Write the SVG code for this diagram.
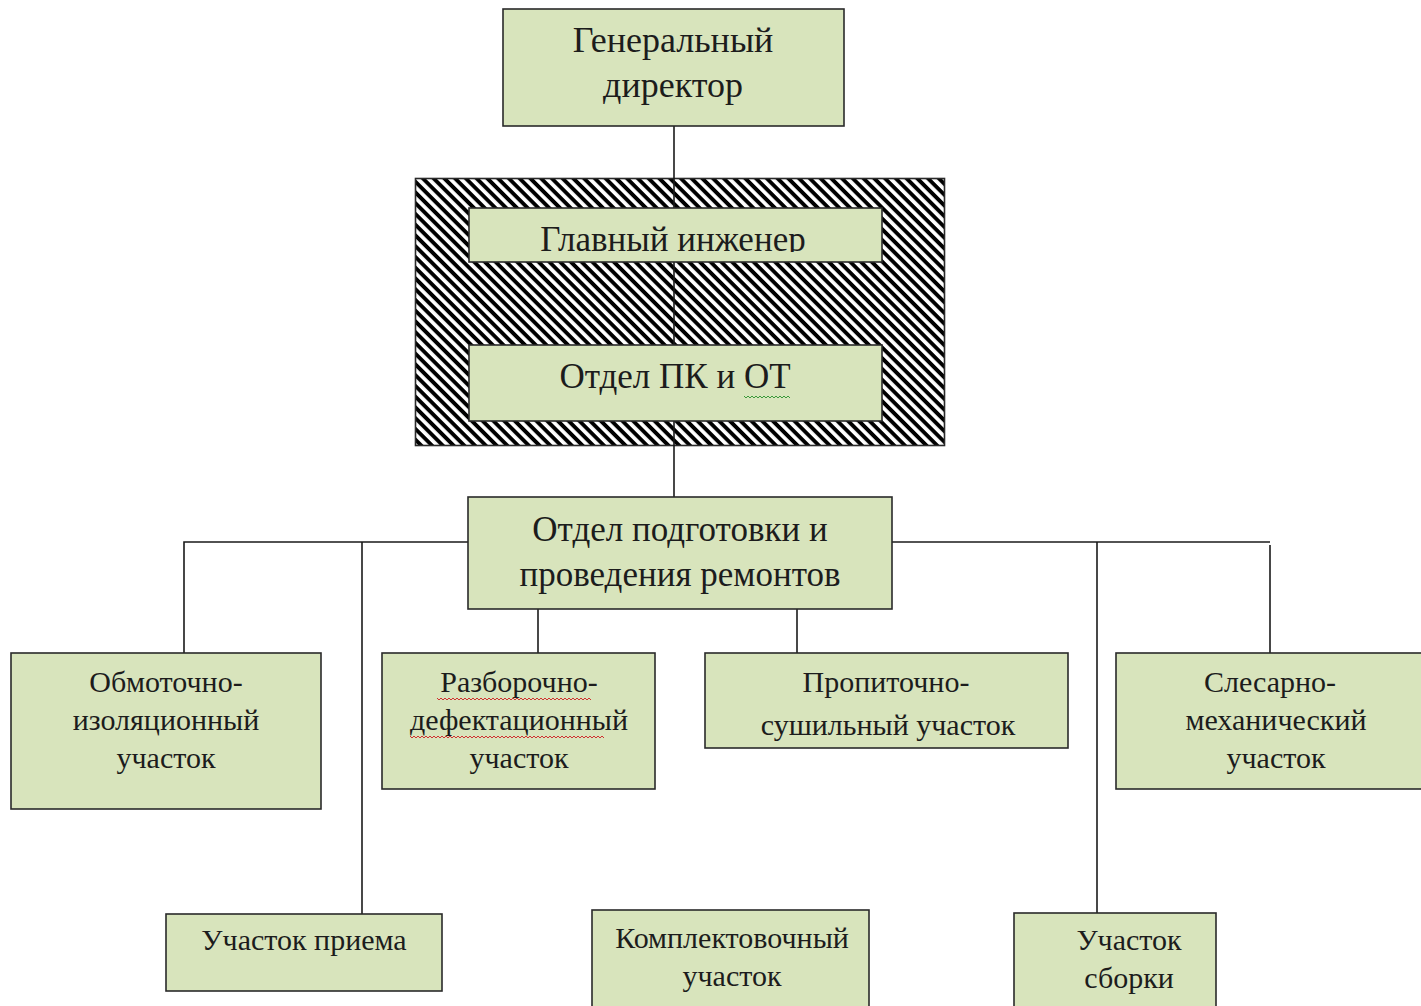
<svg xmlns="http://www.w3.org/2000/svg" width="1421" height="1006" viewBox="0 0 1421 1006">
<style>
.box{fill:#d8e4bc;stroke:#2a2a2a;stroke-width:1.6}
.t{font-family:"Liberation Serif","Times New Roman",serif;fill:#1c1c1c;text-anchor:middle}
.big{font-size:36px}
.mid{font-size:35px}
.sm{font-size:30px}
.ln{stroke:#1a1a1a;stroke-width:1.6;fill:none}
.sq{fill:none;stroke-width:1}
</style>
<defs>
<pattern id="hatch" patternUnits="userSpaceOnUse" width="7.6" height="7.6" patternTransform="rotate(45)">
<rect width="7.6" height="7.6" fill="#fff"/>
<rect x="0" y="0" width="7.6" height="3.9" fill="#000"/>
</pattern>
<clipPath id="clipGI">
<rect x="469" y="208" width="413" height="44"/>
</clipPath>
</defs>
<rect width="1421" height="1006" fill="#fff"/>
<g id="hatched-area">
<rect x="415.5" y="178.5" width="529" height="267" fill="url(#hatch)" stroke="#2a2a2a" stroke-width="1.6"/>
</g>
<g id="connectors">
<line class="ln" x1="674" y1="126" x2="674" y2="497"/>
<polyline class="ln" points="184,653 184,542 468,542"/>
<line class="ln" x1="362" y1="542" x2="362" y2="914"/>
<polyline class="ln" points="892,542 1270,542"/>
<line class="ln" x1="1270" y1="545" x2="1270" y2="653"/>
<line class="ln" x1="1097" y1="542" x2="1097" y2="913"/>
<line class="ln" x1="538" y1="609" x2="538" y2="653"/>
<line class="ln" x1="797" y1="609" x2="797" y2="653"/>
</g>
<g id="node-gendir">
<rect class="box" x="503" y="9" width="341" height="117"/>
<text class="t big" x="673" y="52">Генеральный</text>
<text class="t big" x="673" y="97">директор</text>
</g>
<g id="node-glavinzh">
<rect class="box" x="469" y="208" width="413" height="54"/>
<text class="t mid" x="673" y="251" clip-path="url(#clipGI)">Главный инженер</text>
</g>
<g id="node-pkot">
<rect class="box" x="469" y="345" width="413" height="76"/>
<text class="t mid" x="675" y="388">Отдел ПК и ОТ</text>
<path class="sq" stroke="#3a9a3a" d="M744 396 l2 2 l2 -2 l2 2 l2 -2 l2 2 l2 -2 l2 2 l2 -2 l2 2 l2 -2 l2 2 l2 -2 l2 2 l2 -2 l2 2 l2 -2 l2 2 l2 -2 l2 2 l2 -2 l2 2 l2 -2 l2 2"/>
</g>
<g id="node-otdel-remont">
<rect class="box" x="468" y="497" width="424" height="112"/>
<text class="t mid" x="680" y="541">Отдел подготовки и</text>
<text class="t mid" x="680" y="586">проведения ремонтов</text>
</g>
<g id="node-obmot">
<rect class="box" x="11" y="653" width="310" height="156"/>
<text class="t sm" x="166" y="692">Обмоточно-</text>
<text class="t sm" x="166" y="730">изоляционный</text>
<text class="t sm" x="166" y="768">участок</text>
</g>
<g id="node-razbor">
<rect class="box" x="382" y="653" width="273" height="136"/>
<text class="t sm" x="519" y="692">Разборочно-</text>
<text class="t sm" x="519" y="730">дефектационный</text>
<text class="t sm" x="519" y="768">участок</text>
<path class="sq" stroke="#d03030" d="M437 698 l2 2 l2 -2 l2 2 l2 -2 l2 2 l2 -2 l2 2 l2 -2 l2 2 l2 -2 l2 2 l2 -2 l2 2 l2 -2 l2 2 l2 -2 l2 2 l2 -2 l2 2 l2 -2 l2 2 l2 -2 l2 2 l2 -2 l2 2 l2 -2 l2 2 l2 -2 l2 2 l2 -2 l2 2 l2 -2 l2 2 l2 -2 l2 2 l2 -2 l2 2 l2 -2 l2 2 l2 -2 l2 2 l2 -2 l2 2 l2 -2 l2 2 l2 -2 l2 2 l2 -2 l2 2 l2 -2 l2 2 l2 -2 l2 2 l2 -2 l2 2 l2 -2 l2 2 l2 -2 l2 2 l2 -2 l2 2 l2 -2 l2 2 l2 -2 l2 2 l2 -2 l2 2 l2 -2 l2 2 l2 -2 l2 2 l2 -2 l2 2 l2 -2 l2 2 l2 -2 l2 2"/>
<path class="sq" stroke="#d03030" d="M410 736 l2 2 l2 -2 l2 2 l2 -2 l2 2 l2 -2 l2 2 l2 -2 l2 2 l2 -2 l2 2 l2 -2 l2 2 l2 -2 l2 2 l2 -2 l2 2 l2 -2 l2 2 l2 -2 l2 2 l2 -2 l2 2 l2 -2 l2 2 l2 -2 l2 2 l2 -2 l2 2 l2 -2 l2 2 l2 -2 l2 2 l2 -2 l2 2 l2 -2 l2 2 l2 -2 l2 2 l2 -2 l2 2 l2 -2 l2 2 l2 -2 l2 2 l2 -2 l2 2 l2 -2 l2 2 l2 -2 l2 2 l2 -2 l2 2 l2 -2 l2 2 l2 -2 l2 2 l2 -2 l2 2 l2 -2 l2 2 l2 -2 l2 2 l2 -2 l2 2 l2 -2 l2 2 l2 -2 l2 2 l2 -2 l2 2 l2 -2 l2 2 l2 -2 l2 2 l2 -2 l2 2 l2 -2 l2 2 l2 -2 l2 2 l2 -2 l2 2 l2 -2 l2 2 l2 -2 l2 2 l2 -2 l2 2 l2 -2 l2 2 l2 -2 l2 2 l2 -2 l2 2 l2 -2 l2 2"/>
</g>
<g id="node-propit">
<rect class="box" x="705" y="653" width="363" height="95"/>
<text class="t sm" x="886" y="692">Пропиточно-</text>
<text class="t sm" x="888" y="735">сушильный участок</text>
</g>
<g id="node-slesar">
<rect class="box" x="1116" y="653" width="310" height="136"/>
<text class="t sm" x="1270" y="692">Слесарно-</text>
<text class="t sm" x="1276" y="730">механический</text>
<text class="t sm" x="1276" y="768">участок</text>
</g>
<g id="node-priem">
<rect class="box" x="166" y="914" width="276" height="77"/>
<text class="t sm" x="304" y="950">Участок приема</text>
</g>
<g id="node-komplekt">
<rect class="box" x="592" y="910" width="277" height="100"/>
<text class="t sm" x="732" y="948">Комплектовочный</text>
<text class="t sm" x="732" y="986">участок</text>
</g>
<g id="node-sborka">
<rect class="box" x="1014" y="913" width="202" height="100"/>
<text class="t sm" x="1129" y="950">Участок</text>
<text class="t sm" x="1129" y="988">сборки</text>
</g>
</svg>
